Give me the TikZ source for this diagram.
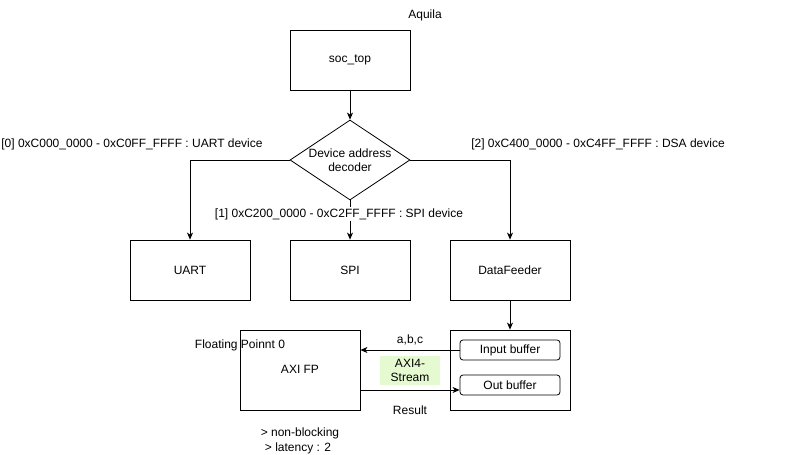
\documentclass[tikz,border=0pt]{standalone}
\usepackage{fontspec}
\setmainfont{Liberation Sans}
\usetikzlibrary{arrows.meta,shapes.geometric}
\definecolor{streamgreen}{RGB}{230,250,210}
\begin{document}
\begin{tikzpicture}[x=1pt,y=-1pt,
  font=\fontsize{12}{14}\selectfont,
  block/.style={draw,line width=0.8pt,minimum width=120pt,minimum height=60pt,inner sep=0pt},
  buf/.style={draw,line width=0.8pt,rounded corners=3pt,minimum width=100pt,inner sep=0pt},
  decoder/.style={draw,line width=0.8pt,diamond,aspect=1.5,minimum width=120pt,minimum height=80pt,inner sep=0pt,align=center},
  link/.style={line width=0.8pt,-{Stealth[length=7pt,width=6pt,inset=2pt]}},
  lbl/.style={fill=white,inner sep=1pt}]
\useasboundingbox (0,0) rectangle (790,455);

% top level and decoder
\node[lbl] (aq) at (425,15) {Aquila};
\node[block] (soc) at (350,60) {soc\_top};
\node[decoder] (dec) at (350,160) {Device address\\decoder};

% peripherals
\node[block] (uart) at (190,270) {UART};
\node[block] (spi) at (350,270) {SPI};
\node[block] (df) at (510,270) {DataFeeder};

\draw[link] (soc) -- (dec);
\draw[link] (dec.west) -| (uart.north);
\draw[link] (dec.east) -| (df.north);
\draw[link] (dec.south) -- (spi.north);

\node[lbl] (l0) at (132,144) {[0] 0xC000\_0000 - 0xC0FF\_FFFF : UART device};
\node[lbl] (l2) at (598,144) {[2] 0xC400\_0000 - 0xC4FF\_FFFF : DSA device};
\node[lbl] (l1) at (339,214) {[1] 0xC200\_0000 - 0xC2FF\_FFFF : SPI device};

% floating point unit and data feeder buffers
\node[draw,line width=0.8pt,minimum width=120pt,minimum height=80pt,inner sep=0pt] (fp) at (300,370) {};
\node (fpt) at (300,369) {AXI FP};
\node (fpn) at (240,345) {Floating Poinnt 0};
\node[draw,line width=0.8pt,minimum width=120pt,minimum height=80pt,inner sep=0pt] (cont) at (510,370) {};
\node[buf,minimum height=20pt] (inb) at (510,350) {Input buffer};
\node[buf,minimum height=20pt] (outb) at (510,385) {Out buffer};

\draw[link] (df) -- (cont);
\draw[link] (inb.west) -- (fp.east |- inb.west);
\coordinate (res) at (360,390);
\draw[link] (res) -- (outb.west |- res);

\node (abc) at (410,340) {a,b,c};
\node[fill=streamgreen,minimum width=60pt,minimum height=29pt,inner sep=0pt,align=center,font=\fontsize{12}{14}\selectfont] (axs) at (410,370.5) {AXI4-\\Stream};
\node (resl) at (410,410) {Result};
\node (nb) at (300,433) {> non-blocking};
\node (lat) at (298,448) {> latency : 2};
\end{tikzpicture}
\end{document}
